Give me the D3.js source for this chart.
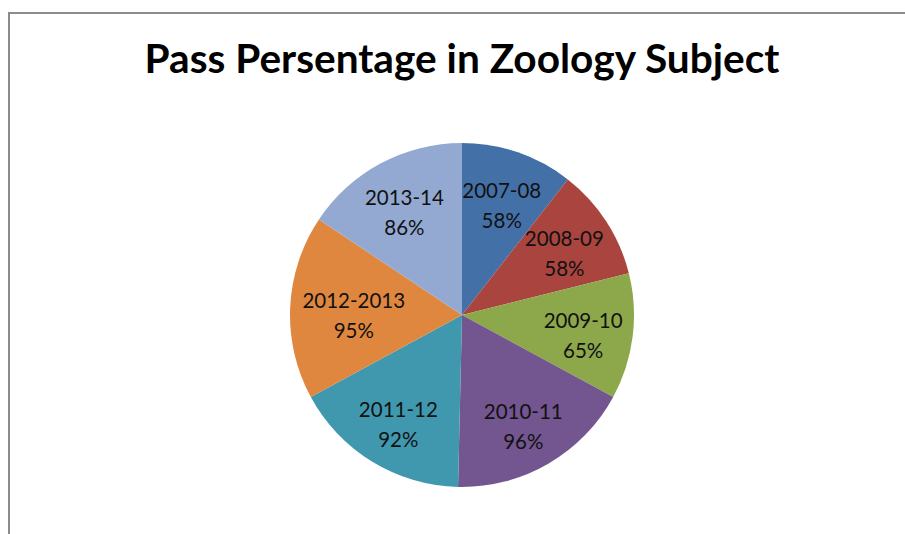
<!DOCTYPE html>
<html><head><meta charset="utf-8">
<script src="https://cdn.jsdelivr.net/npm/d3@7"></script>
<style>body{margin:0;background:#fff;} svg{display:block;}</style>
</head><body>
<svg id="c" width="905" height="534"></svg>
<script>
const titleText = "Pass Persentage in Zoology Subject";
const categories = ["2007-08","2008-09","2009-10","2010-11","2011-12","2012-2013","2013-14"];
const values = [58,58,65,96,92,95,86];
const colors = ["#4470A8","#A9443F","#8CA84B","#73558F","#4098AF","#E0873F","#93A9D1"];

const svg = d3.select("#c");
// frame
svg.append("path").attr("d","M9,534 V13 H905").attr("fill","none").attr("stroke","#8c8c8c").attr("stroke-width",2);

const title = svg.append("text").attr("x",462).attr("y",73).attr("text-anchor","middle")
  .attr("font-family","Lato, 'Open Sans', sans-serif").attr("font-weight","bold").attr("font-size",36)
  .attr("fill","#000").text(titleText);
const tw = title.node().getComputedTextLength();
title.attr("font-size", 36*635/tw);

const cx=462, cy=315, r=172;
const g = svg.append("g").attr("transform",`translate(${cx},${cy})`);
const data = categories.map((c,i)=>({cat:c,val:values[i],col:colors[i]}));
const pie = d3.pie().value(d=>d.val).sort(null);
const arc = d3.arc().innerRadius(0).outerRadius(r);
const arcs = pie(data);
g.selectAll("path.s").data(arcs).join("path").attr("class","s").attr("d",arc).attr("fill",d=>d.data.col);
const lab = g.selectAll("text.l").data(arcs).join("text").attr("class","l")
  .attr("text-anchor","middle").attr("font-family","Lato, 'Open Sans', sans-serif").attr("font-size",20.5).attr("fill","#111");
lab.append("tspan").attr("x",0).attr("dy",-2).text(d=>d.data.cat);
lab.append("tspan").attr("x",0).attr("dy",30).text(d=>d.data.val+"%");
// wide labels are pulled inward so they stay inside the pie
lab.attr("transform",function(d){
  const w = this.getBBox().width;
  const rr = w > 90 ? r*0.63 : r*0.71;
  const a = d3.arc().innerRadius(rr).outerRadius(rr);
  return `translate(${a.centroid(d)})`;
});
</script>
</body></html>
